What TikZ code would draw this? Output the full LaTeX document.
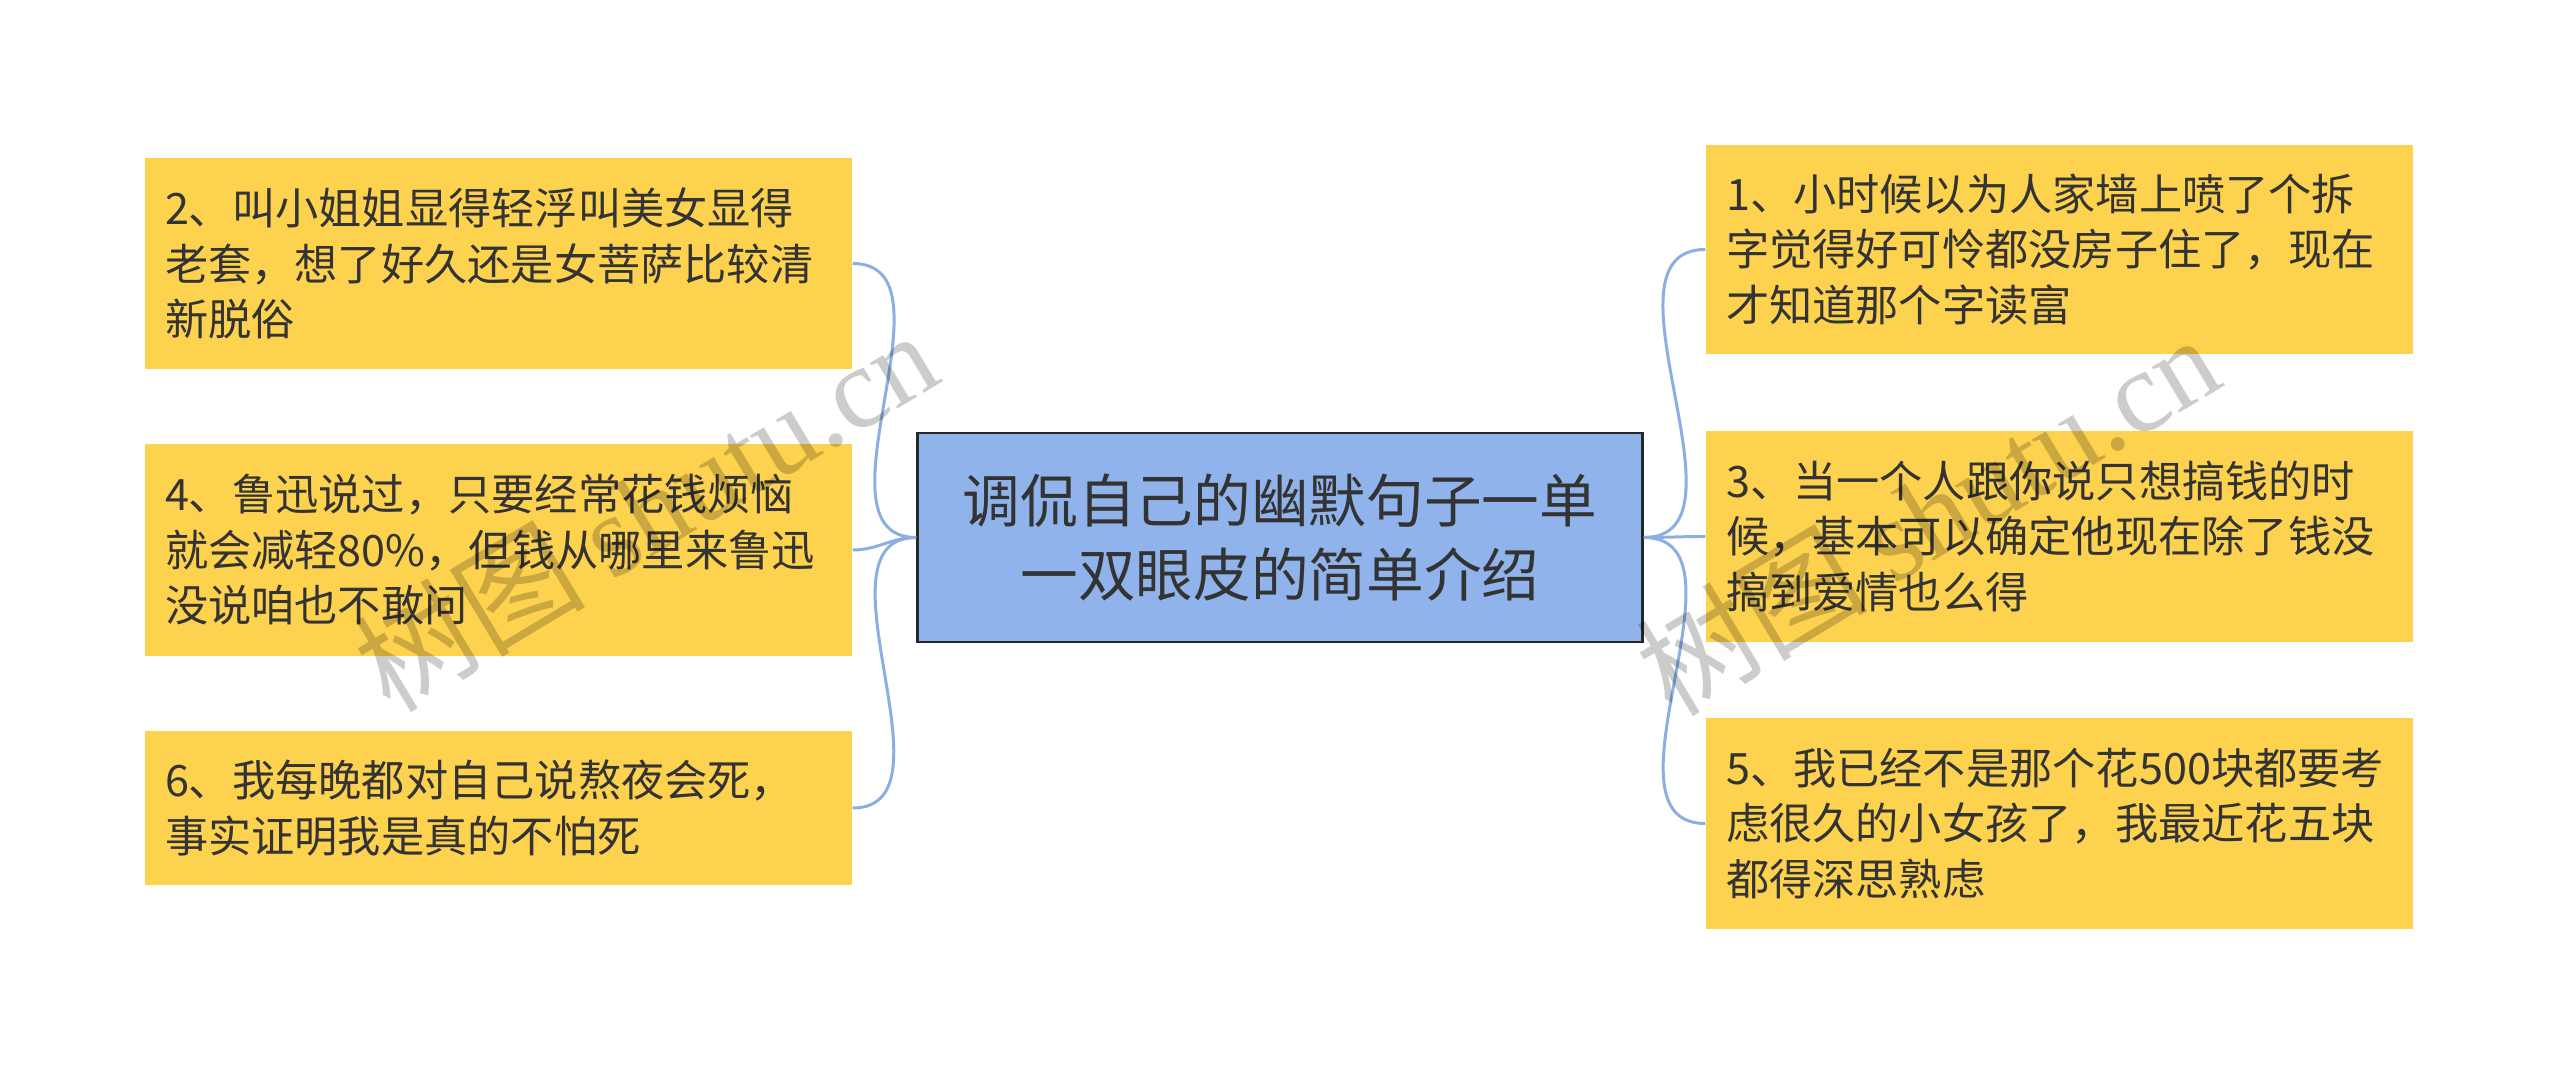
\documentclass[tikz,border=0pt]{standalone}
\usepackage{fontspec}
\setmainfont{Noto Sans CJK SC}
\newfontfamily\wmlatin{Liberation Serif}
\usepackage{xcolor}
\usepackage{tikz}
\usetikzlibrary{positioning}
\definecolor{leafYellow}{HTML}{FDD24F}
\definecolor{rootBlue}{HTML}{8FB3EA}
\definecolor{linkBlue}{HTML}{8DAEE3}
\definecolor{inkGray}{HTML}{333333}

\begin{document}
\begin{tikzpicture}[
  root/.style={rectangle, draw=black!85, line width=0.75pt, fill=rootBlue,
    minimum width=7.25cm, minimum height=2.09cm, align=center, text=inkGray,
    font=\fontsize{16.4}{21.3}\selectfont},
  leaf/.style={rectangle, fill=leafYellow, minimum width=7.07cm, text width=6.67cm,
    inner xsep=0.2cm, align=left, text=inkGray,
    font=\fontsize{12.3}{15.8}\selectfont},
  link/.style={draw=linkBlue, line width=0.85pt},
  wmark/.style={text=black, text opacity=0.2, rotate=31,
    font=\fontsize{33}{33}\selectfont}
]
\useasboundingbox (0,0) rectangle (25.6,-10.75);

\node[root] (topic) at (12.80,-5.375) {调侃自己的幽默句子一单\\一双眼皮的简单介绍};

\node[leaf, minimum height=2.11cm] (tip2) at (4.985,-2.635)
  {2、叫小姐姐显得轻浮叫美女显得\\老套，想了好久还是女菩萨比较清\\新脱俗};
\node[leaf, minimum height=2.12cm] (tip4) at (4.985,-5.50)
  {4、鲁迅说过，只要经常花钱烦恼\\就会减轻80\%，但钱从哪里来鲁迅\\没说咱也不敢问};
\node[leaf, minimum height=1.54cm] (tip6) at (4.985,-8.08)
  {6、我每晚都对自己说熬夜会死，\\事实证明我是真的不怕死};

\node[leaf, minimum height=2.09cm] (tip1) at (20.595,-2.495)
  {1、小时候以为人家墙上喷了个拆\\字觉得好可怜都没房子住了，现在\\才知道那个字读富};
\node[leaf, minimum height=2.11cm] (tip3) at (20.595,-5.365)
  {3、当一个人跟你说只想搞钱的时\\候，基本可以确定他现在除了钱没\\搞到爱情也么得};
\node[leaf, minimum height=2.11cm] (tip5) at (20.595,-8.235)
  {5、我已经不是那个花500块都要考\\虑很久的小女孩了，我最近花五块\\都得深思熟虑};

\draw[link] (topic.west) to[out=180, in=0] (tip2.east);
\draw[link] (topic.west) to[out=180, in=0] (tip4.east);
\draw[link] (topic.west) to[out=180, in=0] (tip6.east);
\draw[link] (topic.east) to[out=0, in=180] (tip1.west);
\draw[link] (topic.east) to[out=0, in=180] (tip3.west);
\draw[link] (topic.east) to[out=0, in=180] (tip5.west);

\node[wmark] (markL) at (6.45,-5.10) {树图 {\wmlatin shutu.cn}};
\node[wmark] (markR) at (19.27,-5.14) {树图 {\wmlatin shutu.cn}};

\end{tikzpicture}
\end{document}
